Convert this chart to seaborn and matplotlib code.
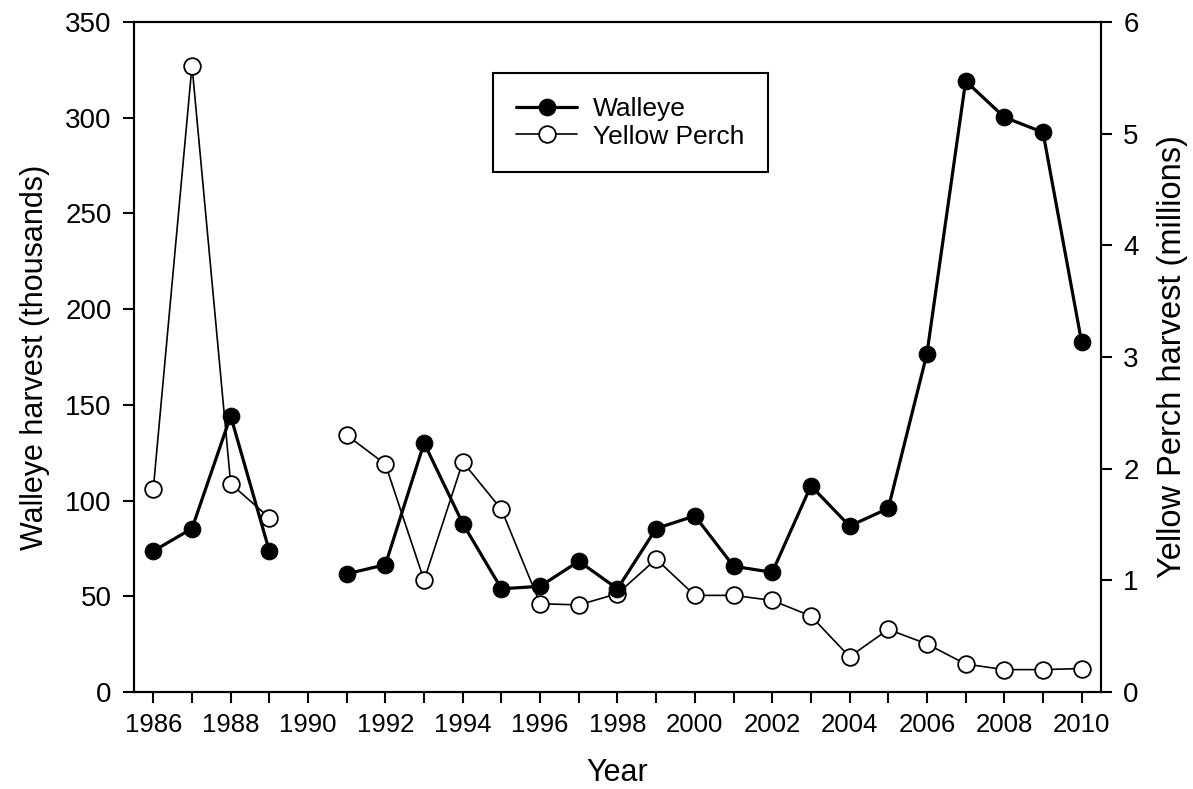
import numpy as np
import pandas as pd
import seaborn as sns
import matplotlib.pyplot as plt
from matplotlib.ticker import MultipleLocator

# harvest by year (1990 missing)
years = list(range(1986, 2011))
walleye = [73.6, 85.4, 144.2, 73.6, np.nan, 61.7, 66.5, 130.1, 88.0, 53.9, 55.2, 68.3, 53.9,
           85.4, 92.0, 65.7, 62.5, 107.7, 86.7, 95.9, 176.8, 319.2, 300.3, 292.4, 182.6]
perch = [1.82, 5.61, 1.865, 1.56, np.nan, 2.30, 2.04, 1.00, 2.06, 1.635, 0.79, 0.78, 0.88,
         1.19, 0.865, 0.865, 0.82, 0.68, 0.315, 0.56, 0.43, 0.25, 0.20, 0.20, 0.21]

df = pd.DataFrame({'year': years, 'walleye': walleye, 'perch': perch})
# split into segments at the missing year so the line breaks
df['segment'] = df['walleye'].isna().cumsum()
df = df.dropna()

sns.set_style('ticks')
plt.rcParams['font.family'] = ['Liberation Sans', 'DejaVu Sans']
for key in ['text.color', 'axes.labelcolor', 'xtick.color', 'ytick.color']:
    plt.rcParams[key] = 'black'

fig = plt.figure(figsize=(11.93, 7.89), dpi=100)
ax = fig.add_axes([0.1123, 0.123, 0.8106, 0.849])
ax2 = ax.twinx()

sns.lineplot(data=df, x='year', y='perch', units='segment', estimator=None, ax=ax2,
             color='black', linewidth=1.2, marker='o', markersize=12,
             markerfacecolor='white', markeredgecolor='black', markeredgewidth=1.3, legend=False)
sns.lineplot(data=df, x='year', y='walleye', units='segment', estimator=None, ax=ax,
             color='black', linewidth=2.3, marker='o', markersize=12,
             markerfacecolor='black', markeredgecolor='black', legend=False)

# walleye drawn above perch
ax.set_zorder(ax2.get_zorder() + 1)
ax.patch.set_visible(False)

ax.set_xlim(1985.5, 2010.5)
ax.set_ylim(0, 350)
ax2.set_ylim(0, 6)
ax.set_xticks(range(1986, 2011, 2))
ax.xaxis.set_minor_locator(MultipleLocator(1))
ax.set_yticks(range(0, 351, 50))
ax2.set_yticks(range(0, 7))

ax.tick_params(axis='x', which='both', direction='out', length=8, width=1.5, labelsize=18.5, pad=7)
ax.tick_params(axis='y', direction='out', length=8, width=1.5, labelsize=20, pad=8)
ax2.tick_params(axis='y', direction='out', length=8, width=1.5, labelsize=20, pad=8)

for a in (ax, ax2):
    for s in a.spines.values():
        s.set_linewidth(1.5)
        s.set_color('black')

ax.set_xlabel('Year', fontsize=22, labelpad=15)
ax.set_ylabel('Walleye harvest (thousands)', fontsize=22, labelpad=11)
ax2.set_ylabel('Yellow Perch harvest (millions)', fontsize=23.5, labelpad=13)

handles = [ax.lines[0], ax2.lines[0]]
leg = ax.legend(handles, ['Walleye', 'Yellow Perch'], loc='upper left',
                bbox_to_anchor=(0.371, 0.924), borderaxespad=0, fontsize=19,
                frameon=True, fancybox=False, edgecolor='black', framealpha=1,
                handlelength=2.3, labelspacing=0.15, borderpad=0.9, handletextpad=0.6)
leg.get_frame().set_linewidth(1.5)

fig.savefig('out.png', dpi=100)
